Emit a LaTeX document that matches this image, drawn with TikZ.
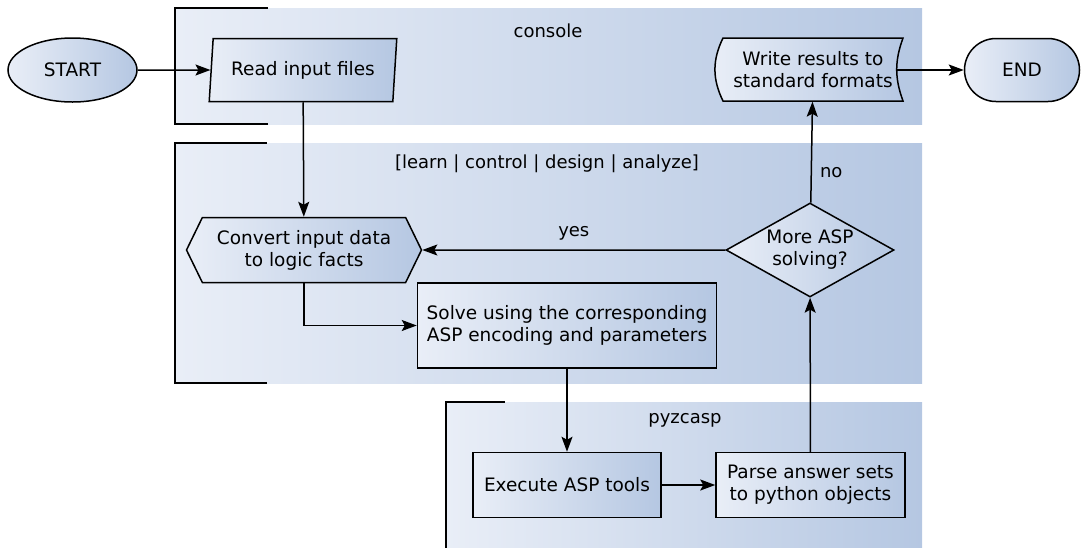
\documentclass[tikz,border=0pt]{standalone}
\usepackage{fontspec}
\setmainfont{DejaVu Sans}
\usetikzlibrary{shapes.geometric,shapes.misc,shapes.symbols,arrows.meta}
\definecolor{shadeleft}{RGB}{233,238,247}
\definecolor{shaderight}{RGB}{181,199,226}
\tikzset{%
	flow text/.style={
		font=\fontsize{18.5}{22}\selectfont,
		align=center,
		inner sep=0pt
	},
	flow node/.style={
		flow text,
		draw=black,
		line width=1.5pt,
		left color=shadeleft,
		right color=shaderight
	},
	flow box/.style={
		flow node,
		rectangle,
		minimum height=65pt
	},
	flow arrow/.style={
		line width=1.5pt,
		-{Stealth[length=15pt,width=11pt,inset=3pt]}
	},
	bracket/.style={
		line width=1.6pt
	},
	panel label/.style={
		font=\fontsize{18}{22}\selectfont,
		inner sep=0pt
	},
}

\begin{document}
\begin{tikzpicture}[x=1pt,y=-1pt]
		\useasboundingbox (0,0) rectangle (1084,547);
		% Panels
		\foreach \ptop/\pbot/\pend in {8/124/268,143/383/267}{
		\shade[left color=shadeleft, right color=shaderight] (175,\ptop) rectangle (922,\pbot);
		\draw[bracket] (\pend,\pbot) -- (175,\pbot) -- (175,\ptop) -- (\pend,\ptop);
		}
		\shade[left color=shadeleft, right color=shaderight] (446,402) rectangle (922,548);
		\draw[bracket] (446,548) -- (446,402) -- (505,402);
		
		\node[panel label] (console) at (548,31) {console};
		\node[panel label] (modes) at (547,164) {[learn | control | design | analyze]};
		\node[panel label] (pyzcasp) at (685,420) {pyzcasp};
		
		% Nodes
		\node[flow node, ellipse, minimum width=129pt, minimum height=64pt] (start) at (72.5,70) {START};
		\node[flow node, trapezium, trapezium left angle=80, trapezium right angle=100,
		trapezium stretches=true, minimum width=188pt, minimum height=63pt] (read) at (303,70) {Read input files};
		
		\shade[draw=black, line width=1.5pt, left color=shadeleft, right color=shaderight]
		(723,38) -- (903,38) to[bend right=20] (903,101) -- (723,101) to[bend left=26] (723,38) -- cycle;
		\node[flow text, minimum width=180pt, minimum height=63pt] (write) at (813,70) {Write results to\\standard formats};
		\node[flow node, rounded rectangle, minimum width=115pt, minimum height=63pt] (end) at (1022,70) {END};
		
		\node[flow node, signal, signal to=west and east, signal pointer angle=128,
		minimum width=235pt, minimum height=65pt] (convert) at (304,250) {Convert input data\\to logic facts};
		\node[flow box, minimum width=299pt, minimum height=85pt] (solve) at (567,325.5) {Solve using the corresponding\\ASP encoding and parameters};
		\node[flow node, diamond, aspect=1.8, minimum width=168pt, minimum height=94pt] (decide) at (810,250) {More ASP\\solving?};
		
		\node[flow box, minimum width=188pt] (execute) at (567,485) {Execute ASP tools};
		\node[flow box, minimum width=189pt] (parse) at (810.5,485) {Parse answer sets\\to python objects};
		
		%Edges
		\draw[flow arrow] (start) -- (read);
		\draw[flow arrow] ([xshift=-6pt]write.east) -- (end);
		\draw[flow arrow] (read) -- (convert);
		\draw[flow arrow] (convert.south) |- (solve.west);
		\draw[flow arrow] (solve) -- (execute);
		\draw[flow arrow] (execute) -- (parse);
		\draw[flow arrow] (parse) -- (decide);
		\draw[flow arrow] (decide) -- node[panel label, above=9pt] (yes) {yes} (convert);
		\draw[flow arrow] (decide) -- node[panel label, pos=0.3, right=8pt] (no) {no} (write);
		
		\end{tikzpicture}
\end{document}
